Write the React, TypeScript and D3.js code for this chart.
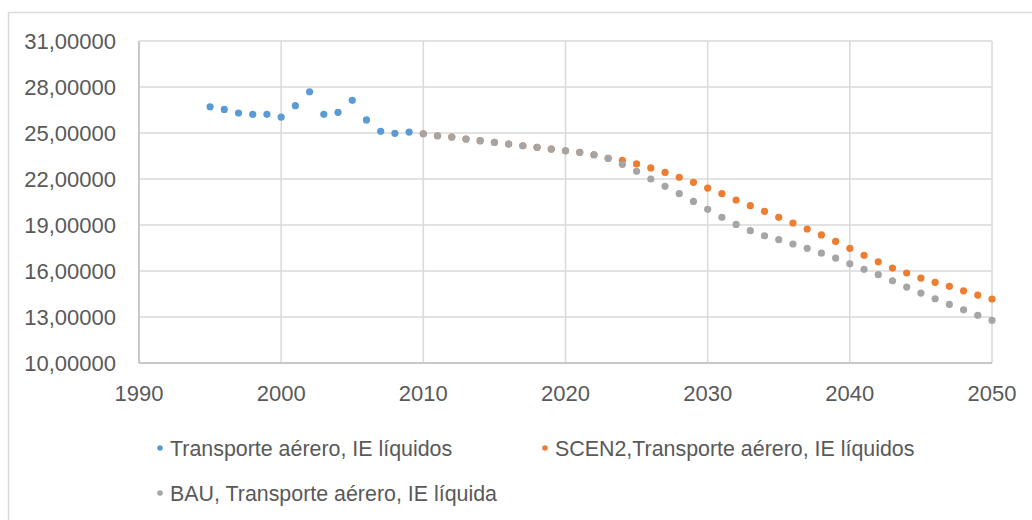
import React from "react";
import * as d3 from "d3";

const histYears = [1995, 1996, 1997, 1998, 1999, 2000, 2001, 2002, 2003, 2004, 2005, 2006, 2007, 2008, 2009];
const histValues = [26.71, 26.54, 26.30, 26.22, 26.22, 26.04, 26.78, 27.69, 26.22, 26.35, 27.13, 25.85, 25.11, 24.98, 25.06];

const projYears = [
  2010, 2011, 2012, 2013, 2014, 2015, 2016, 2017, 2018, 2019, 2020, 2021, 2022, 2023, 2024, 2025, 2026, 2027, 2028, 2029,
  2030, 2031, 2032, 2033, 2034, 2035, 2036, 2037, 2038, 2039, 2040, 2041, 2042, 2043, 2044, 2045, 2046, 2047, 2048, 2049, 2050,
];
const scen2Values = [
  24.95, 24.82, 24.74, 24.61, 24.50, 24.39, 24.28, 24.17, 24.07, 23.95, 23.84, 23.74, 23.58, 23.35, 23.22, 22.98, 22.72, 22.43,
  22.11, 21.78, 21.41, 21.04, 20.63, 20.26, 19.89, 19.50, 19.13, 18.74, 18.35, 17.93, 17.48, 17.02, 16.60, 16.19, 15.87, 15.54,
  15.26, 15.00, 14.71, 14.43, 14.17,
];
const bauValues = [
  24.95, 24.82, 24.74, 24.61, 24.50, 24.39, 24.28, 24.17, 24.07, 23.95, 23.84, 23.74, 23.58, 23.35, 22.96, 22.50, 22.00, 21.52,
  21.04, 20.54, 20.02, 19.50, 19.04, 18.63, 18.30, 18.04, 17.76, 17.48, 17.17, 16.84, 16.47, 16.11, 15.76, 15.36, 14.95, 14.56,
  14.19, 13.82, 13.47, 13.11, 12.78,
];

const xTicks = [1990, 2000, 2010, 2020, 2030, 2040, 2050];
const yTicks = [10, 13, 16, 19, 22, 25, 28, 31];

const seriesNames = [
  "Transporte aérero, IE líquidos",
  "SCEN2,Transporte aérero, IE líquidos",
  "BAU, Transporte aérero, IE líquida",
];
const seriesColors = ["#5B9BD5", "#ED7D31", "#A5A5A5"];

const W = 1032;
const H = 520;
const FONT = "'Liberation Sans', Arial, sans-serif";
const TEXT = "#595959";

export default function App() {
  const x = d3.scaleLinear().domain([1990, 2050]).range([139, 992]);
  const y = d3.scaleLinear().domain([10, 31]).range([363, 41]);
  const fmt = (v: number) => v.toFixed(5).replace(".", ",");

  const series = [
    { xs: histYears, vs: histValues, color: seriesColors[0] },
    { xs: projYears, vs: scen2Values, color: seriesColors[1] },
    { xs: projYears, vs: bauValues, color: seriesColors[2] },
  ];

  const legend = [
    { name: seriesNames[0], color: seriesColors[0], lx: 160, ly: 448 },
    { name: seriesNames[1], color: seriesColors[1], lx: 545, ly: 448 },
    { name: seriesNames[2], color: seriesColors[2], lx: 160, ly: 493 },
  ];

  return (
    <svg
      width={W}
      height={H}
      style={{ position: "absolute", left: 0, top: 0, display: "block", background: "#fff" }}
      fontFamily={FONT}
    >
      <rect x={8.5} y={12.5} width={W} height={H} fill="#fff" stroke="#D9D9D9" strokeWidth={1.5} />
      {yTicks.map((t) => (
        <line key={"gy" + t} x1={x(1990)} x2={x(2050)} y1={y(t)} y2={y(t)} stroke="#D9D9D9" strokeWidth={1.5} />
      ))}
      {xTicks.map((t) => (
        <line key={"gx" + t} x1={x(t)} x2={x(t)} y1={y(10)} y2={y(31)} stroke="#D9D9D9" strokeWidth={1.5} />
      ))}
      <line x1={x(1990)} x2={x(1990)} y1={y(10)} y2={y(31)} stroke="#BFBFBF" strokeWidth={1.5} />
      <line x1={x(1990)} x2={x(2050)} y1={y(10)} y2={y(10)} stroke="#BFBFBF" strokeWidth={1.5} />
      {yTicks.map((t) => (
        <text key={"ly" + t} x={116} y={y(t)} dy="0.36em" textAnchor="end" fontSize={22} fill={TEXT}>
          {fmt(t)}
        </text>
      ))}
      {xTicks.map((t) => (
        <text key={"lx" + t} x={x(t)} y={401} textAnchor="middle" fontSize={22} fill={TEXT}>
          {t}
        </text>
      ))}
      {series.map((s, si) =>
        s.vs.map((v, i) => <circle key={si + "-" + i} cx={x(s.xs[i])} cy={y(v)} r={3.6} fill={s.color} />)
      )}
      {legend.map((l) => (
        <g key={l.name}>
          <circle cx={l.lx} cy={l.ly} r={2.8} fill={l.color} />
          <text x={l.lx + 10} y={l.ly} dy="0.36em" fontSize={21.4} fill={TEXT}>
            {l.name}
          </text>
        </g>
      ))}
    </svg>
  );
}
